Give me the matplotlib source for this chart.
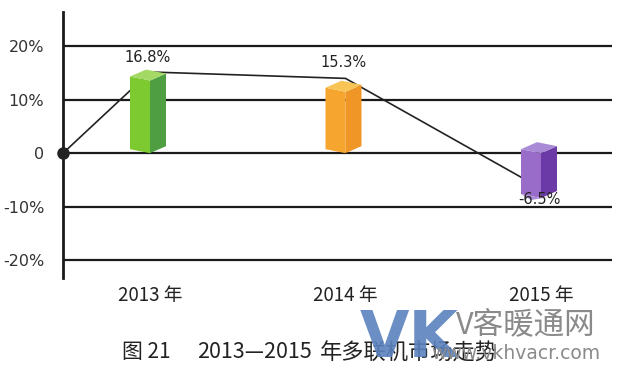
import matplotlib.pyplot as plt
from matplotlib.patches import Polygon

plt.rcParams['font.family'] = ['DejaVu Sans', 'Noto Sans CJK SC']

years = ["2013 年", "2014 年", "2015 年"]
growth = [16.8, 15.3, -6.5]              # labels on the bars
bar_ends = [13.6, 11.5, -8.4]            # front edge end of each prism, as drawn
trend = [0, 15.2, 14.0, -6.6]            # broken line: start at axis, then per year
yticks = [20, 10, 0, -10, -20]
ytick_labels = ["20%", "10%", "0", "-10%", "-20%"]

faces = [
    ("#7cc930", "#4f9f42", "#a3d964"),   # green: left, right, top
    ("#f6a52e", "#ef9626", "#f8c455"),   # orange
    ("#9a6cc9", "#6b3aa6", "#a88ad6"),   # purple
]

fig = plt.figure(figsize=(6.27, 3.8), dpi=100)
ax = fig.add_axes([0.1005, 0.268, 0.8755, 0.70])
x0, x1 = -0.445, 2.363
ax.set_xlim(x0, x1)
ax.set_ylim(-23.4, 26.4)

# pixel -> data conversions
px = (x1 - x0) / (0.8755 * 627)
py = (26.4 + 23.4) / (0.70 * 380)

for t in yticks:
    ax.axhline(t, color="#1a1a1a", lw=1.6, zorder=1)

xs = [x0] + list(range(len(years)))
ax.plot(xs, trend, color="#222222", lw=1.2, zorder=2, clip_on=False)
ax.plot([x0], [0], "o", color="#222222", ms=8, zorder=5, clip_on=False)

lx, ly = -20 * px, 4 * py
rx, ry = 16 * px, 7 * py
for i, end in enumerate(bar_ends):
    left_c, right_c, top_c = faces[i]
    lo, hi = min(0, end), max(0, end)
    left = Polygon([(i, lo), (i + lx, lo + ly), (i + lx, hi + ly), (i, hi)],
                   closed=True, fc=left_c, ec="none", zorder=3)
    right = Polygon([(i, lo), (i + rx, lo + ry), (i + rx, hi + ry), (i, hi)],
                    closed=True, fc=right_c, ec="none", zorder=3)
    top = Polygon([(i, hi), (i + lx, hi + ly), (i + lx + rx, hi + ly + ry),
                   (i + rx, hi + ry)], closed=True, fc=top_c, ec="none", zorder=3)
    for p in (left, right, top):
        ax.add_patch(p)
    if end < 0:
        bot = Polygon([(i, lo), (i + lx, lo + ly), (i + lx * 0.5, lo - 2 * py),
                       (i + rx * 0.5, lo + 1 * py)], closed=True,
                      fc=top_c, ec="none", zorder=3)
        ax.add_patch(bot)

label_y = [18.0, 17.0, -8.6]
for i, (g, yy) in enumerate(zip(growth, label_y)):
    ax.text(i - 0.01, yy, f"{g}%", ha="center", va="center", fontsize=10.5,
            color="#222222", zorder=6)

ax.set_yticks(yticks)
ax.set_yticklabels(ytick_labels, fontsize=11.5, color="#333333")
ax.set_xticks(range(len(years)))
ax.set_xticklabels(years, fontsize=13.5, color="#222222",
                   family=['Noto Sans CJK SC', 'DejaVu Sans'])
ax.tick_params(axis="y", length=0, pad=13.5)
ax.tick_params(axis="x", length=0, pad=5)
for s in ("top", "right", "bottom"):
    ax.spines[s].set_visible(False)
ax.spines["left"].set_linewidth(2)
ax.spines["left"].set_color("#1a1a1a")

cjk = ['Noto Sans CJK SC', 'DejaVu Sans']
fig.text(0.195, 0.073, "图 21", ha="left", va="center", fontsize=15,
         color="#222222", family=cjk)
fig.text(0.315, 0.073, "2013—2015", ha="left", va="center", fontsize=15.5,
         color="#222222", family=cjk)
fig.text(0.51, 0.073, "年多联机市场走势", ha="left", va="center",
         fontsize=16, color="#222222", family=cjk)

# watermark
fig.text(0.574, 0.108, "VK", fontsize=46, fontweight="bold", color="#5b82bf",
         alpha=0.9, ha="left", va="center", family=['DejaVu Sans'])
fig.text(0.727, 0.145, "V客暖通网", fontsize=22, color="#8a8a8a", ha="left",
         va="center", family=cjk)
fig.text(0.957, 0.07, "www.vkhvacr.com", fontsize=13.5, color="#8a8a8a",
         ha="right", va="center")

fig.savefig("out.png", dpi=100)
